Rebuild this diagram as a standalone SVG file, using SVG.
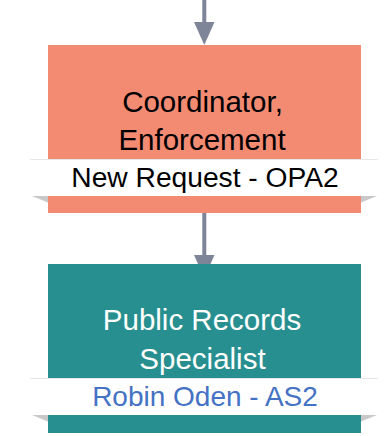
<svg xmlns="http://www.w3.org/2000/svg" width="386" height="436" viewBox="0 0 386 436">
<defs>
<style>
.t{font-family:"Liberation Sans",Arial,sans-serif;text-anchor:middle}
.band{fill:#ffffff}
.edge{stroke:#e6e6e6;stroke-width:1}
.fold{fill:#c8c8c8}
.conn{stroke:#7f8598;stroke-width:4;fill:none}
.head{fill:#7f8598}
</style>
</defs>
<g id="connectors">
<line class="conn" x1="204.3" y1="0" x2="204.3" y2="24"/>
<polygon class="head" points="194,22 214.5,22 204.3,45"/>
<line class="conn" x1="204.3" y1="213" x2="204.3" y2="256"/>
<polygon class="head" points="194,255 214.5,255 204.3,278"/>
</g>
<g id="node1">
<rect x="48" y="45" width="313" height="168" fill="#f38b73"/>
<text class="t" x="202.5" y="111.5" font-size="29.5" fill="#000">Coordinator,</text>
<text class="t" x="202" y="150" font-size="29.5" fill="#000">Enforcement</text>
<polygon class="fold" points="32,196 48,196 48,202.5"/>
<polygon class="fold" points="361,196 377,196 361,202.5"/>
<rect class="band" x="30" y="159" width="348" height="37"/>
<line class="edge" x1="30" y1="159.5" x2="378" y2="159.5"/>
<text class="t" x="205" y="187" font-size="28.2" fill="#000">New Request - OPA2</text>
</g>
<g id="node2">
<rect x="48" y="264" width="313" height="169" fill="#278f8f"/>
<text class="t" x="202" y="330" font-size="29.5" fill="#ffffff">Public Records</text>
<text class="t" x="202.5" y="369" font-size="29.5" fill="#ffffff">Specialist</text>
<polygon class="fold" points="32,415 48,415 48,421.5"/>
<polygon class="fold" points="361,415 377,415 361,421.5"/>
<rect class="band" x="30" y="378" width="348" height="37"/>
<line class="edge" x1="30" y1="378.5" x2="378" y2="378.5"/>
<text class="t" x="205" y="406" font-size="28" fill="#4472c4">Robin Oden - AS2</text>
</g>
</svg>
